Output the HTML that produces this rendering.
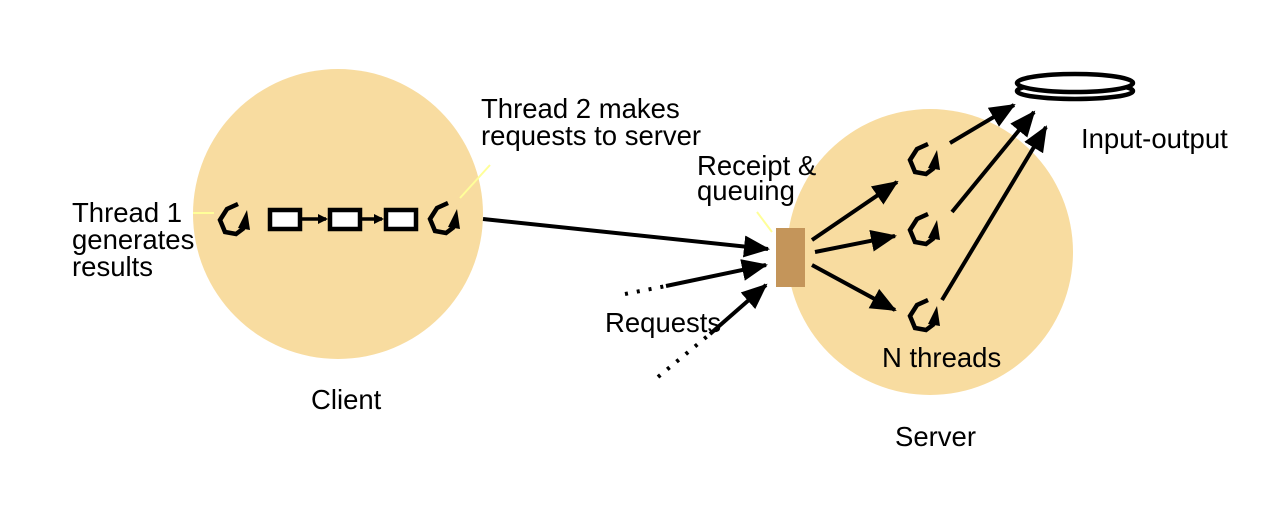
<!DOCTYPE html>
<html><head><style>body{margin:0;background:#fff}svg text{font-family:"Liberation Sans",sans-serif;font-size:27.5px;fill:#000}</style></head><body>
<svg width="1282" height="510" viewBox="0 0 1282 510" xmlns="http://www.w3.org/2000/svg">
<defs>
<marker id="a" markerWidth="10" markerHeight="10" refX="8" refY="5" orient="auto" markerUnits="userSpaceOnUse"><path d="M0,0L10,5L0,10z"/></marker>
<marker id="b" markerWidth="26" markerHeight="22" refX="24" refY="11" orient="auto" markerUnits="userSpaceOnUse"><path d="M0,0L26,11L0,22z"/></marker>
<g id="t"><path d="M8,-14 L-3,-9 L-10,2 L-5,14 L6,16 L14,10" fill="none" stroke="#000" stroke-width="4.5"/><path d="M8,10 L17,-8 L20,12z"/></g>
</defs>
<circle cx="338" cy="214" r="145" fill="#f8dca0"/>
<circle cx="930" cy="252" r="143" fill="#f8dca0"/>
<line x1="193" y1="213" x2="214" y2="213" stroke="#ffff99" stroke-width="2"/>
<line x1="460" y1="198" x2="490" y2="165" stroke="#ffff99" stroke-width="2"/>
<line x1="757" y1="212" x2="772" y2="232" stroke="#ffff99" stroke-width="2"/>
<use href="#t" x="230" y="218"/>
<use href="#t" x="440" y="217"/>
<g fill="#fff" stroke="#000" stroke-width="4.5"><rect x="270" y="210" width="30" height="19"/><rect x="330" y="210" width="30" height="19"/><rect x="386" y="210" width="30" height="19"/></g>
<g stroke="#000" stroke-width="3.5"><line x1="300" y1="219" x2="326" y2="219" marker-end="url(#a)"/><line x1="360" y1="219" x2="382" y2="219" marker-end="url(#a)"/></g>
<rect x="776" y="228" width="29" height="59" fill="#c4955a"/>
<g stroke="#000" stroke-width="4" fill="none">
<line x1="483" y1="219" x2="768" y2="249" marker-end="url(#b)"/>
<line x1="666" y1="286" x2="766" y2="265" marker-end="url(#b)"/>
<line x1="625" y1="294" x2="666" y2="286" stroke-dasharray="3,9"/>
<line x1="710" y1="334" x2="766" y2="285" marker-end="url(#b)"/>
<line x1="658" y1="377" x2="710" y2="334" stroke-dasharray="3,9"/>
<line x1="812" y1="240" x2="897" y2="182" marker-end="url(#b)"/>
<line x1="815" y1="252" x2="895" y2="236" marker-end="url(#b)"/>
<line x1="812" y1="265" x2="895" y2="310" marker-end="url(#b)"/>
<line x1="950" y1="143" x2="1014" y2="105" marker-end="url(#b)"/>
<line x1="952" y1="212" x2="1034" y2="112" marker-end="url(#b)"/>
<line x1="942" y1="300" x2="1046" y2="127" marker-end="url(#b)"/>
</g>
<use href="#t" x="920" y="158"/>
<use href="#t" x="920" y="228"/>
<use href="#t" x="920" y="314"/>
<g fill="#fff" stroke="#000" stroke-width="4.5"><ellipse cx="1075" cy="91" rx="58" ry="8"/><ellipse cx="1075" cy="83" rx="58" ry="9"/></g>
<text x="72" y="222">Thread 1</text><text x="72" y="249">generates</text><text x="72" y="276">results</text>
<text x="481" y="118">Thread 2 makes</text><text x="481" y="145">requests to server</text>
<text x="697" y="175">Receipt &amp;</text><text x="697" y="200">queuing</text>
<text x="605" y="332">Requests</text>
<text x="882" y="367">N threads</text>
<text x="1081" y="148">Input-output</text>
<text x="311" y="409">Client</text>
<text x="895" y="446">Server</text>
</svg>
</body></html>
